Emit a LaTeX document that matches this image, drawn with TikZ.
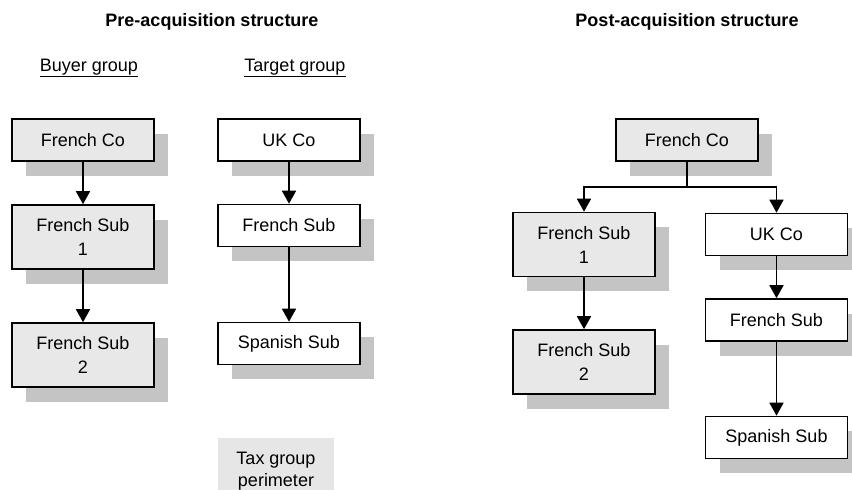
\documentclass[tikz,border=0pt]{standalone}
\usepackage{fontspec}
\setmainfont{Liberation Sans}
\usetikzlibrary{arrows.meta,shadows}
\definecolor{boxgray}{HTML}{E8E8E8}
\definecolor{shadegray}{HTML}{C4C4C4}
\definecolor{taxgray}{HTML}{E6E6E6}
\newcommand{\grpunderline}[1]{\setbox0\hbox{#1}\rlap{\rule[-2.4pt]{\wd0}{0.55pt}}\box0}

\begin{document}
\begin{tikzpicture}[x=0.5pt,y=-0.5pt]
        % Define styles
        \tikzset{
            entity/.style={draw, line width=0.8pt, minimum width=71pt, minimum height=21pt, inner sep=0pt,
                align=center, font=\fontsize{9}{12}\selectfont,
                drop shadow={shadow xshift=7pt, shadow yshift=-7.5pt, fill=shadegray, opacity=1}},
            buyer/.style={entity, fill=boxgray},
            target/.style={entity, fill=white},
            tall/.style={minimum height=32pt},
            own/.style={-{Triangle[width=7pt,length=6.5pt]}, line width=0.8pt},
            heading/.style={anchor=base, font=\fontsize{9}{12}\selectfont\bfseries},
            grouplabel/.style={anchor=base, font=\fontsize{9}{12}\selectfont},
            perimeter/.style={fill=taxgray, anchor=north, minimum width=58pt, inner ysep=7pt,
                align=center, font=\fontsize{9}{11}\selectfont}
        }
        \useasboundingbox (0,0) rectangle (852,490);
        % Headings
        \node[heading] (pre) at (212,27) {Pre-acquisition structure};
        \node[heading] (post) at (687,27) {Post-acquisition structure};
        \node[grouplabel] (buyergrp) at (89,72) {\grpunderline{Buyer group}};
        \node[grouplabel] (targetgrp) at (295,72) {\grpunderline{Target group}};
        % Buyer group before the deal
        \node[buyer] (bco) at (83,140) {French Co};
        \node[buyer, tall] (bsub1) at (83,237) {French Sub\\1};
        \node[buyer, tall] (bsub2) at (83,355) {French Sub\\2};
        % Target group before the deal
        \node[target] (tuk) at (289,140) {UK Co};
        \node[target] (tfs) at (289,225.5) {French Sub};
        \node[target] (tsp) at (289,343.5) {Spanish Sub};
        % Tax group key
        \node[perimeter] (tax) at (276,438) {Tax group\\perimeter};
        % Structure after the deal
        \node[buyer] (pco) at (687,140) {French Co};
        \node[buyer, tall] (psub1) at (584,244.5) {French Sub\\1};
        \node[buyer, tall] (psub2) at (584,362) {French Sub\\2};
        \node[target] (puk) at (776.5,234.5) {UK Co};
        \node[target] (pfs) at (776.5,320) {French Sub};
        \node[target] (psp) at (776.5,437.5) {Spanish Sub};
        % Ownership links
        \draw[own] (bco) -- (bsub1);
        \draw[own] (bsub1) -- (bsub2);
        \draw[own] (tuk) -- (tfs);
        \draw[own] (tfs) -- (tsp);
        \coordinate (split) at (pco.south |- 0,187);
        \draw[line width=0.8pt] (pco.south) -- (split);
        \draw[own] (split) -| (psub1.north);
        \draw[own] (split) -| (puk.north);
        \draw[own] (psub1) -- (psub2);
        \draw[own] (puk) -- (pfs);
        \draw[own] (pfs) -- (psp);
\end{tikzpicture}
\end{document}
